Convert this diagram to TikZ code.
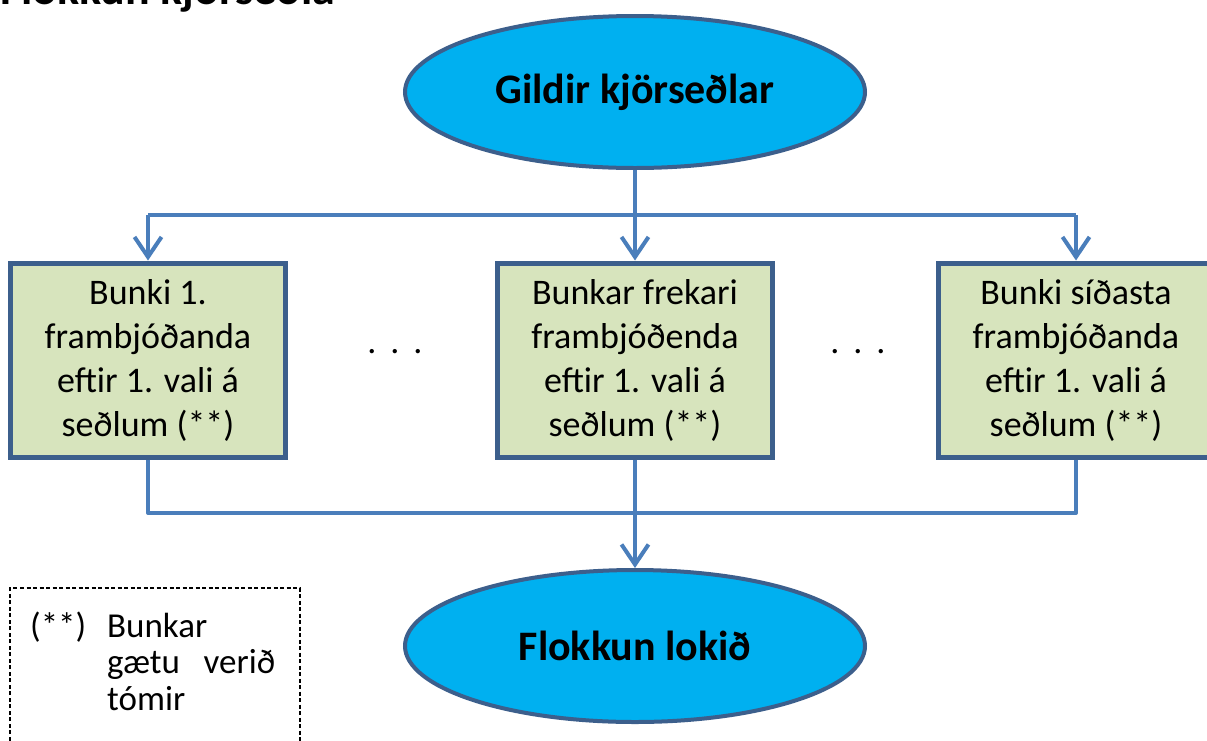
\documentclass[tikz,border=0pt]{standalone}
\usepackage{fontspec}
\setmainfont{Carlito}
\usetikzlibrary{shapes.geometric,arrows.meta}
\definecolor{cyanfill}{HTML}{00B0F0}
\definecolor{darkedge}{HTML}{3C5F8C}
\definecolor{boxfill}{HTML}{D7E4BD}
\definecolor{conn}{HTML}{4A7EBB}
\begin{document}
\begin{tikzpicture}[x=1pt,y=-1pt,
  oval/.style={ellipse, draw=darkedge, line width=4pt, fill=cyanfill, minimum width=460pt, minimum height=152pt, inner sep=0pt, font=\fontsize{42}{50}\selectfont\bfseries},
  stackbox/.style={rectangle, draw=darkedge, line width=5pt, fill=boxfill, minimum width=275pt, minimum height=194pt, inner sep=0pt, align=center, font=\fontsize{36}{44}\selectfont},
  link/.style={draw=conn, line width=4pt},
  arr/.style={link, -{Straight Barb[length=20pt,width=27pt]}},
  dots/.style={font=\fontsize{36}{44}\selectfont, inner sep=0pt},
  note/.style={font=\fontsize{35}{36.5}\selectfont, inner sep=0pt}]
\clip (0,0) rectangle (1207,740);
\fill[white] (0,0) rectangle (1207,740);
% title (cut off at top)
\node[anchor=base west, inner sep=0pt, font=\fontsize{46}{54}\selectfont\bfseries] (title) at (0,4) {Flokkun kjörseðla};
% nodes
\node[oval] (start) at (635,92) {Gildir kjörseðlar};
\node[stackbox] (b1) at (148,360) {Bunki 1.\\frambjóðanda\\eftir 1. vali á\\seðlum (**)};
\node[stackbox] (b2) at (635,360) {Bunkar frekari\\frambjóðenda\\eftir 1. vali á\\seðlum (**)};
\node[stackbox] (b3) at (1076,360) {Bunki síðasta\\frambjóðanda\\eftir 1. vali á\\seðlum (**)};
\node[oval] (end) at (635,646) {Flokkun lokið};
\node[dots] (d1) at (395,352) {.\hspace{14pt}.\hspace{14pt}.};
\node[dots] (d2) at (858,352) {.\hspace{14pt}.\hspace{14pt}.};
% junctions
\coordinate (jt) at (635,215);
\coordinate (jtl) at (148,215);
\coordinate (jtr) at (1076,215);
\coordinate (jb) at (635,513);
\coordinate (jbl) at (148,513);
\coordinate (jbr) at (1076,513);
% connectors
\draw[link] (start.south) -- (jt);
\draw[link, line join=round] (jtl) -- (jtr);
\draw[arr] (jtl) -- (b1.north);
\draw[arr] (jt) -- (b2.north);
\draw[arr] (jtr) -- (b3.north);
\draw[link, line join=round] (b1.south) -- (jbl) -- (jbr) -- (b3.south);
\draw[arr] (b2.south) -- (end.north);
% footnote box
\draw[black, line width=1.3pt, dash pattern=on 4pt off 2.5pt] (10,760) -- (10,588) -- (300,588) -- (300,760);
\node[note, anchor=base west] (star) at (30,637) {(**)};
\node[note, anchor=base west, text width=168pt, align=left] (ntext) at (107,637) {Bunkar\\gætu\hfill verið\\tómir};
\end{tikzpicture}
\end{document}
